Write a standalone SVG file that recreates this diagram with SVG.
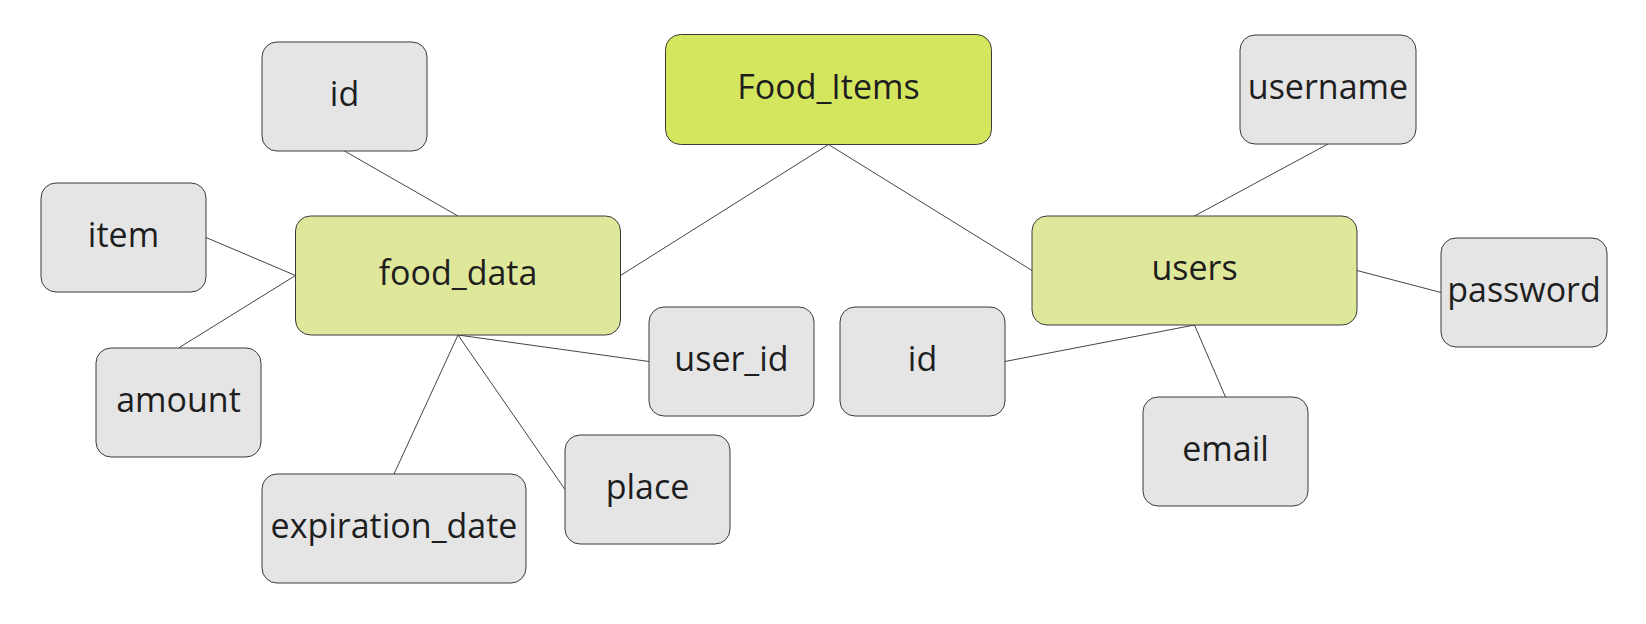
<svg xmlns="http://www.w3.org/2000/svg" width="1646" height="624" viewBox="0 0 1646 624">
<style>
  .n rect { stroke: #3a3a3a; stroke-width: 1; }
  .attr rect { fill: #e5e5e5; }
  .ent rect { fill: #dfe79a; }
  .root rect { fill: #d4e65e; }
  text { font-family: "Open Sans", "Noto Sans", sans-serif; font-size: 34px; fill: #1e1e1e; text-anchor: middle; }
  .edges line { stroke: #444; stroke-width: 1; }
</style>
<rect width="1646" height="624" fill="#ffffff"/>
<g class="edges" id="connectors">
  <line x1="828.5" y1="144.5" x2="620.5" y2="275.5"/>
  <line x1="828.5" y1="144.5" x2="1032" y2="270.5"/>
  <line x1="344.5" y1="151" x2="458" y2="216"/>
  <line x1="206" y1="237.5" x2="295.5" y2="275.5"/>
  <line x1="178.5" y1="348" x2="295.5" y2="275.5"/>
  <line x1="458" y1="335" x2="649" y2="361.5"/>
  <line x1="458" y1="335" x2="565" y2="489.5"/>
  <line x1="458" y1="335" x2="394" y2="474"/>
  <line x1="1328" y1="144" x2="1194.5" y2="216"/>
  <line x1="1357" y1="270.5" x2="1441" y2="292.5"/>
  <line x1="1194.5" y1="325" x2="1005" y2="361.5"/>
  <line x1="1194.5" y1="325" x2="1225.5" y2="397"/>
</g>
<g id="food_items" class="n root"><rect x="665.5" y="34.5" width="326" height="110" rx="15"/><text x="828.5" y="99">Food_Items</text></g>
<g id="food_data" class="n ent"><rect x="295.5" y="216" width="325" height="119" rx="15"/><text x="458" y="285">food_data</text></g>
<g id="users" class="n ent"><rect x="1032" y="216" width="325" height="109" rx="15"/><text x="1194.5" y="280">users</text></g>
<g id="fd_id" class="n attr"><rect x="262" y="42" width="165" height="109" rx="15"/><text x="344.5" y="106">id</text></g>
<g id="item" class="n attr"><rect x="41" y="183" width="165" height="109" rx="15"/><text x="123.5" y="247">item</text></g>
<g id="amount" class="n attr"><rect x="96" y="348" width="165" height="109" rx="15"/><text x="178.5" y="412">amount</text></g>
<g id="expiration_date" class="n attr"><rect x="262" y="474" width="264" height="109" rx="15"/><text x="394" y="538">expiration_date</text></g>
<g id="place" class="n attr"><rect x="565" y="435" width="165" height="109" rx="15"/><text x="647.5" y="499">place</text></g>
<g id="user_id" class="n attr"><rect x="649" y="307" width="165" height="109" rx="15"/><text x="731.5" y="371">user_id</text></g>
<g id="u_id" class="n attr"><rect x="840" y="307" width="165" height="109" rx="15"/><text x="922.5" y="371">id</text></g>
<g id="email" class="n attr"><rect x="1143" y="397" width="165" height="109" rx="15"/><text x="1225.5" y="461">email</text></g>
<g id="username" class="n attr"><rect x="1240" y="35" width="176" height="109" rx="15"/><text x="1328" y="99">username</text></g>
<g id="password" class="n attr"><rect x="1441" y="238" width="166" height="109" rx="15"/><text x="1524" y="302">password</text></g>
</svg>
